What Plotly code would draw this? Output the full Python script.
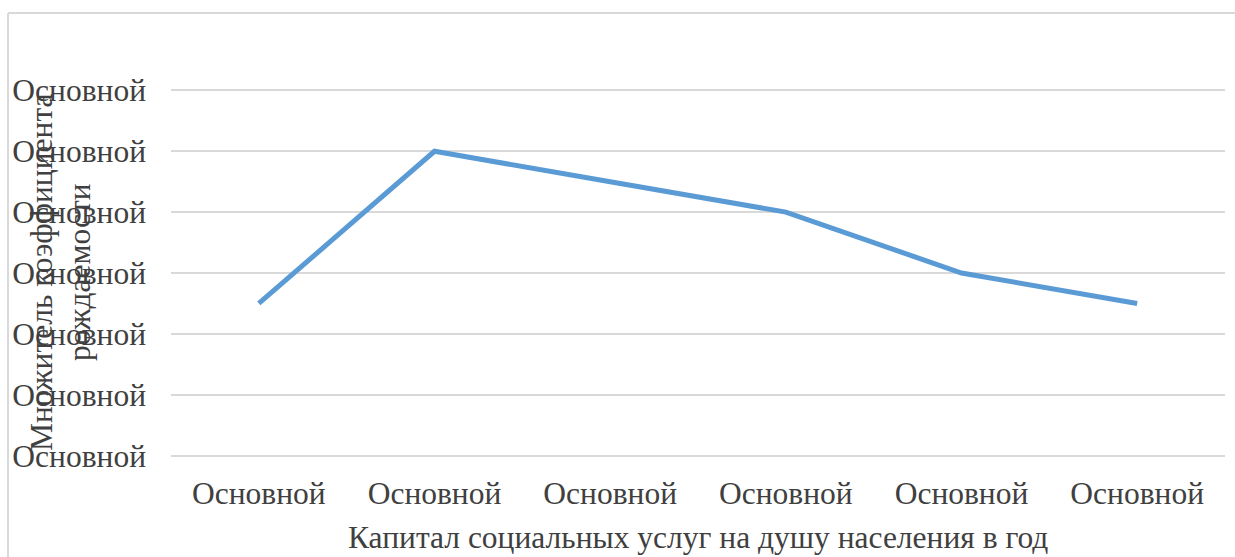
import plotly.graph_objects as go

# Category positions along the x axis and their labels
categories = [0, 1, 2, 3, 4, 5]
x_labels = ["Основной", "Основной", "Основной", "Основной", "Основной", "Основной"]

# Birth-rate multiplier series
values = [2.5, 5.0, 4.5, 4.0, 3.0, 2.5]

# Y axis ticks and their labels
y_ticks = [0, 1, 2, 3, 4, 5, 6]
y_labels = ["Основной"] * 7

x_title = "Капитал социальных услуг на душу населения в год"
y_title_lines = ["Множитель коэффициента", "рождаемости"]

FONT = "Liberation Serif, Times New Roman, serif"
TEXT = "#404040"
GRID = "#d9d9d9"
FS = 31.5

W, H = 1235, 557
L, R, T, B = 171, 10, 88, 99
pw, ph = W - L - R, H - T - B

def px_x(x):
    return (x - L) / pw

def px_y(y):
    return (T + ph - y) / ph

fig = go.Figure()
fig.add_trace(go.Scatter(
    x=categories, y=values, mode="lines",
    line=dict(color="#5b9bd5", width=5),
    hoverinfo="skip", showlegend=False,
))

# rotated y title, one annotation per line
title_x = [41, 79]
y_title_annotations = [
    dict(text=line, xref="paper", yref="paper", textangle=-90,
         x=px_x(xc), y=px_y(272), xanchor="center", yanchor="middle",
         showarrow=False, font=dict(size=FS, color=TEXT))
    for line, xc in zip(y_title_lines, title_x)
]

fig.update_layout(
    width=W, height=H,
    margin=dict(l=L, r=R, t=T, b=B, autoexpand=False),
    paper_bgcolor="white", plot_bgcolor="white",
    font=dict(family=FONT, size=FS, color=TEXT),
    xaxis=dict(
        range=[-0.5, 5.5], tickvals=categories, ticktext=x_labels,
        showgrid=False, zeroline=False, showline=False, ticks="",
        ticklabelstandoff=13, automargin=False, fixedrange=True,
    ),
    yaxis=dict(
        range=[-0.04, 6.04], tickvals=y_ticks, ticktext=y_labels,
        showgrid=True, gridcolor=GRID, gridwidth=2, zeroline=False,
        showline=False, ticks="", ticklabelstandoff=24,
        automargin=False, fixedrange=True,
    ),
    annotations=[
        dict(text=x_title, xref="paper", yref="paper",
             x=0.5, y=px_y(537), xanchor="center", yanchor="middle",
             showarrow=False, font=dict(size=FS, color=TEXT)),
    ] + y_title_annotations,
    shapes=[
        # chart frame (left and top edges)
        dict(type="line", xref="paper", yref="paper",
             x0=px_x(8), x1=px_x(8), y0=px_y(H + 5), y1=px_y(13),
             line=dict(color=GRID, width=2)),
        dict(type="line", xref="paper", yref="paper",
             x0=px_x(8), x1=px_x(W + 5), y0=px_y(13), y1=px_y(13),
             line=dict(color=GRID, width=2)),
    ],
)

fig.write_html("out.html", config=dict(displayModeBar=False))
